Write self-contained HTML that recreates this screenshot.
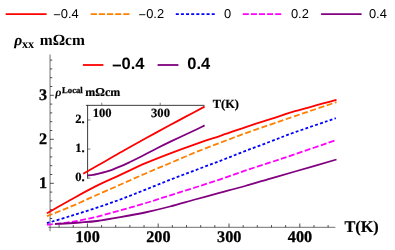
<!DOCTYPE html>
<html><head><meta charset="utf-8"><title>chart</title>
<style>html,body{margin:0;padding:0;background:#fff}svg{display:block;will-change:transform}</style>
</head><body>
<svg width="395" height="250" viewBox="0 0 395 250">
<rect width="395" height="250" fill="#fff"/>
<g stroke="#333" stroke-width="0.7" fill="none">
<path d="M48.4 227.3H335.4"/>
<path d="M50.05 231.2V54.5"/>
</g>
<g stroke="#222" stroke-width="0.8" fill="none">
<path d="M59.08 227.3v-2.2M73.24 227.3v-2.2M87.40 227.3v-3.8M101.56 227.3v-2.2M115.72 227.3v-2.2M129.88 227.3v-2.2M144.04 227.3v-2.2M158.20 227.3v-3.8M172.36 227.3v-2.2M186.52 227.3v-2.2M200.68 227.3v-2.2M214.84 227.3v-2.2M229.00 227.3v-3.8M243.16 227.3v-2.2M257.32 227.3v-2.2M271.48 227.3v-2.2M285.64 227.3v-2.2M299.80 227.3v-3.8M313.96 227.3v-2.2M328.12 227.3v-2.2M50.05 218.50h2.2M50.05 209.70h2.2M50.05 200.90h2.2M50.05 192.10h2.2M50.05 183.30h3.8M50.05 174.50h2.2M50.05 165.70h2.2M50.05 156.90h2.2M50.05 148.10h2.2M50.05 139.30h3.8M50.05 130.50h2.2M50.05 121.70h2.2M50.05 112.90h2.2M50.05 104.10h2.2M50.05 95.30h3.8M50.05 86.50h2.2M50.05 77.70h2.2M50.05 68.90h2.2M50.05 60.10h2.2"/>
</g>
<g stroke="#1a1a1a" stroke-width="0.85" fill="none">
<path d="M85.9 105.35H204.5"/><path d="M87.6 105.35V178.6"/>
</g>
<g stroke="#444" stroke-width="0.7" fill="none">
<path d="M101.80 105.3v-2.6M160.20 105.3v-2.6M87.6 178.10h2.8M87.6 149.10h2.8M87.6 120.00h2.8"/>
</g>
<g fill="none" stroke-linecap="butt" stroke-linejoin="round">
<path d="M46.90 213.30 C50.80 211.08 62.28 204.45 70.30 200.00 C78.32 195.55 86.67 190.78 95.00 186.60 C103.33 182.42 111.97 178.77 120.30 174.90 C128.63 171.03 136.67 167.00 145.00 163.40 C153.33 159.80 161.97 156.48 170.30 153.30 C178.63 150.12 186.67 147.22 195.00 144.30 C203.33 141.38 211.97 138.63 220.30 135.80 C228.63 132.97 236.67 130.07 245.00 127.30 C253.33 124.53 261.97 121.88 270.30 119.20 C278.63 116.52 283.97 114.43 295.00 111.20 C306.03 107.97 329.58 101.70 336.50 99.80" stroke="#ff0000" stroke-width="1.8"/>
<path d="M46.90 216.20 C49.08 215.33 55.32 212.90 60.00 211.00 C64.68 209.10 69.17 207.33 75.00 204.80 C80.83 202.27 87.50 199.13 95.00 195.80 C102.50 192.47 111.67 188.48 120.00 184.80 C128.33 181.12 136.62 177.33 145.00 173.70 C153.38 170.07 161.97 166.53 170.30 163.00 C178.63 159.47 186.67 155.88 195.00 152.50 C203.33 149.12 211.97 145.88 220.30 142.70 C228.63 139.52 236.67 136.42 245.00 133.40 C253.33 130.38 261.97 127.48 270.30 124.60 C278.63 121.72 283.97 119.85 295.00 116.10 C306.03 112.35 329.58 104.43 336.50 102.10" stroke="#ff8000" stroke-width="1.8" stroke-dasharray="6 2.6"/>
<path d="M46.90 223.20 C50.75 222.03 61.98 218.68 70.00 216.20 C78.02 213.72 86.62 211.08 95.00 208.30 C103.38 205.52 111.97 202.58 120.30 199.50 C128.63 196.42 136.67 193.10 145.00 189.80 C153.33 186.50 161.97 182.95 170.30 179.70 C178.63 176.45 186.67 173.45 195.00 170.30 C203.33 167.15 211.97 164.00 220.30 160.80 C228.63 157.60 236.67 154.30 245.00 151.10 C253.33 147.90 261.97 144.75 270.30 141.60 C278.63 138.45 284.08 136.10 295.00 132.20 C305.92 128.30 329.00 120.53 335.80 118.20" stroke="#0000ff" stroke-width="1.8" stroke-dasharray="2.9 2.2"/>
<path d="M46.90 224.70 C50.75 224.28 61.98 223.45 70.00 222.20 C78.02 220.95 86.62 219.18 95.00 217.20 C103.38 215.22 111.97 212.62 120.30 210.30 C128.63 207.98 136.67 205.80 145.00 203.30 C153.33 200.80 161.97 197.93 170.30 195.30 C178.63 192.67 186.67 190.17 195.00 187.50 C203.33 184.83 211.97 182.10 220.30 179.30 C228.63 176.50 236.67 173.52 245.00 170.70 C253.33 167.88 261.97 165.15 270.30 162.40 C278.63 159.65 283.97 157.93 295.00 154.20 C306.03 150.47 329.58 142.37 336.50 140.00" stroke="#ff00ff" stroke-width="1.8" stroke-dasharray="6 2.4"/>
<path d="M55.00 224.00 C56.67 223.92 60.83 223.75 65.00 223.50 C69.17 223.25 74.67 222.92 80.00 222.50 C85.33 222.08 90.28 221.88 97.00 221.00 C103.72 220.12 112.30 218.62 120.30 217.20 C128.30 215.78 136.72 214.28 145.00 212.50 C153.28 210.72 161.67 208.67 170.00 206.50 C178.33 204.33 186.62 201.80 195.00 199.50 C203.38 197.20 211.97 194.95 220.30 192.70 C228.63 190.45 236.67 188.35 245.00 186.00 C253.33 183.65 261.97 181.02 270.30 178.60 C278.63 176.18 283.97 174.68 295.00 171.50 C306.03 168.32 329.58 161.50 336.50 159.50" stroke="#800080" stroke-width="1.8"/>
<path d="M83.20 173.80 C86.88 171.70 98.45 165.13 105.30 161.20 C112.15 157.27 117.63 153.98 124.30 150.20 C130.97 146.42 137.90 142.57 145.30 138.50 C152.70 134.43 162.03 129.40 168.70 125.80 C175.37 122.20 179.32 120.10 185.30 116.90 C191.28 113.70 201.38 108.32 204.60 106.60" stroke="#ff0000" stroke-width="1.8"/>
<path d="M87.30 175.40 C88.25 175.30 91.05 175.12 93.00 174.80 C94.95 174.48 96.92 173.98 99.00 173.50 C101.08 173.02 103.33 172.52 105.50 171.90 C107.67 171.28 109.42 170.75 112.00 169.80 C114.58 168.85 118.00 167.50 121.00 166.20 C124.00 164.90 126.47 163.70 130.00 162.00 C133.53 160.30 137.70 158.28 142.20 156.00 C146.70 153.72 152.03 150.82 157.00 148.30 C161.97 145.78 165.97 143.78 172.00 140.90 C178.03 138.02 187.77 133.58 193.20 131.00 C198.63 128.42 202.70 126.33 204.60 125.40" stroke="#800080" stroke-width="1.8"/>
</g>
<g fill="none" stroke-width="1.8">
<path d="M5.7 14.05H46.6" stroke="#ff0000"/>
<path d="M90.7 14.05H129.6" stroke="#ff8000" stroke-dasharray="6.2 1.95"/>
<path d="M175.8 14.05H214.8" stroke="#0000ff" stroke-dasharray="3 2.13"/>
<path d="M242.8 14.05H281.3" stroke="#ff00ff" stroke-dasharray="6 2.1"/>
<path d="M321.1 14.05H361.6" stroke="#800080"/>
</g>
<g style="filter:grayscale(1)" text-rendering="geometricPrecision" font-family="'Liberation Sans', sans-serif" font-size="12.9" fill="#000">
<text x="53.2" y="18.3"><tspan dy="1.1">−</tspan><tspan dy="-1.1">0.4</tspan></text>
<text x="138.6" y="18.3"><tspan dy="1.1">−</tspan><tspan dy="-1.1">0.2</tspan></text>
<text x="224" y="18.3">0</text>
<text x="290.9" y="18.3">0.2</text>
<text x="368.9" y="18.3">0.4</text>
</g>
<path d="M82.9 65H103.4" stroke="#ff0000" stroke-width="1.8" fill="none"/>
<path d="M157.6 65H178.4" stroke="#800080" stroke-width="1.8" fill="none"/>
<g style="filter:grayscale(1)" text-rendering="geometricPrecision" font-family="'Liberation Sans', sans-serif" font-weight="bold" font-size="16.5" fill="#000">
<text x="111.9" y="69.4"><tspan dy="1.5">−</tspan><tspan dy="-1.5">0.4</tspan></text>
<text x="187.3" y="69.4">0.4</text>
</g>
<g style="filter:grayscale(1)" text-rendering="geometricPrecision" font-family="'Liberation Serif', serif" font-weight="bold" fill="#000">
<text y="45.4" font-size="15.5"><tspan x="14.2" font-style="italic">ρ</tspan><tspan x="21.9" font-size="12" dy="2.5">xx</tspan><tspan x="39.8" dy="-2.5">mΩcm</tspan></text>
<text x="344.4" y="232" font-size="16.3" stroke="#000" stroke-width="0.2">T(K)</text>
<text x="87.60" y="241.9" font-size="16.2" text-anchor="middle" stroke="#000" stroke-width="0.3">100</text>
<text x="158.40" y="241.9" font-size="16.2" text-anchor="middle" stroke="#000" stroke-width="0.3">200</text>
<text x="229.20" y="241.9" font-size="16.2" text-anchor="middle" stroke="#000" stroke-width="0.3">300</text>
<text x="300.00" y="241.9" font-size="16.2" text-anchor="middle" stroke="#000" stroke-width="0.3">400</text>
<text x="47.2" y="188.10" font-size="16.2" text-anchor="end" stroke="#000" stroke-width="0.3">1</text>
<text x="47.2" y="144.10" font-size="16.2" text-anchor="end" stroke="#000" stroke-width="0.3">2</text>
<text x="47.2" y="100.10" font-size="16.2" text-anchor="end" stroke="#000" stroke-width="0.3">3</text>
<text y="96.4" font-size="12"><tspan x="55.2" font-style="italic">ρ</tspan><tspan x="62" font-size="8.7" dy="-3.5" stroke="#000" stroke-width="0.25">Local</tspan><tspan x="85.3" dy="3.5" stroke="#000" stroke-width="0.2">mΩcm</tspan></text>
<text x="212.8" y="108.4" font-size="12.4" stroke="#000" stroke-width="0.2">T(K)</text>
<text x="102.1" y="117.1" font-size="12.6" text-anchor="middle" stroke="#000" stroke-width="0.2">100</text>
<text x="160.5" y="117.1" font-size="12.6" text-anchor="middle" stroke="#000" stroke-width="0.2">300</text>
<text x="84.7" y="123.2" font-size="12.6" text-anchor="end" stroke="#000" stroke-width="0.2">2.</text>
<text x="84.7" y="152.2" font-size="12.6" text-anchor="end" stroke="#000" stroke-width="0.2">1.</text>
<text x="84.7" y="180.9" font-size="12.6" text-anchor="end" stroke="#000" stroke-width="0.2">0.</text>
</g>
</svg>
</body></html>
